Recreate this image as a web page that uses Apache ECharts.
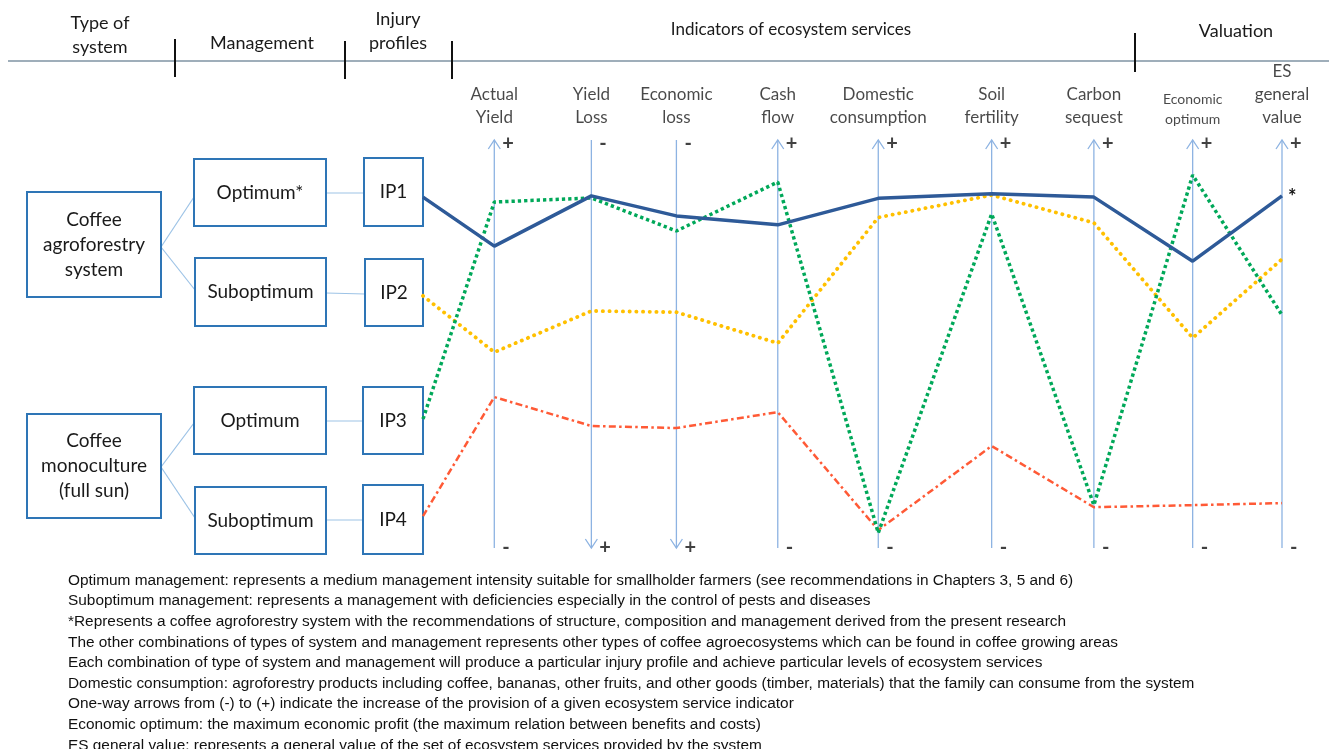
<!DOCTYPE html>
<html><head><meta charset="utf-8">
<script src="https://cdn.jsdelivr.net/npm/echarts@6/dist/echarts.min.js"></script>
<style>html,body{margin:0;padding:0;background:#fff;}#c{width:1329px;height:749px;}</style>
</head><body><div id="c"></div>
<script>
// ---------- DATA ----------
const indicators = ['Actual\nYield','Yield\nLoss','Economic\nloss','Cash\nflow','Domestic\nconsumption','Soil\nfertility','Carbon\nsequest','Economic\noptimum','ES\ngeneral\nvalue'];
const topSigns    = ['+','-','-','+','+','+','+','+','+'];
const bottomSigns = ['-','+','+','-','-','-','-','-','-'];
const profiles = ['IP1','IP2','IP3','IP4'];
// first value = starting level at the injury-profile box, then one value per indicator (0 = "-" end, 100 = "+" end of drawing)
const ip1 = [86.0, 74.0, 86.3, 81.4, 79.2, 85.7, 86.8, 86.0, 70.3, 86.3];
const ip2 = [61.8, 48.0, 58.1, 57.8, 50.2, 81.0, 86.5, 79.7, 51.5, 70.8];
const ip3 = [31.6, 84.8, 85.8, 77.7, 89.7,  3.7, 81.9, 10.5, 91.4, 57.1];
const ip4 = [ 7.8, 37.0, 29.9, 29.4, 33.3,  4.4, 25.0, 10.0, 10.5, 11.0];
const footnotes = [
  'Optimum management: represents a medium management intensity suitable for smallholder farmers (see recommendations in Chapters 3, 5 and 6)',
  'Suboptimum management: represents a management with deficiencies especially in the control of pests and diseases',
  '*Represents a coffee agroforestry system with the recommendations of structure, composition and management derived from the present research',
  'The other combinations of types of system and management represents other types of coffee agroecosystems which can be found in coffee growing areas',
  'Each combination of type of system and management will produce a particular injury profile and achieve particular levels of ecosystem services',
  'Domestic consumption: agroforestry products including coffee, bananas, other fruits, and other goods (timber, materials) that the family can consume from the system',
  'One-way arrows from (-) to (+) indicate the increase of the provision of a given ecosystem service indicator',
  'Economic optimum: the maximum economic profit (the maximum relation between benefits and costs)',
  'ES general value: represents a general value of the set of ecosystem services provided by the system'
];

// ---------- LAYOUT ----------
const AXIS_POS = [0, 8.3, 19.6, 29.5, 41.3, 53.0, 66.2, 78.1, 89.6, 100];
const FONT = 'Lato';
const BOX = '#2E75B6', CONN = '#9DC3E6', AXISC = '#8DB3E2';

const chart = echarts.init(document.getElementById('c'), null, {renderer:'canvas'});

function pts(arr){ return arr.map((v,i)=>[AXIS_POS[i], v]); }

const g = [];
// header line + ticks
g.push({type:'line', shape:{x1:8,y1:61,x2:1329,y2:61}, style:{stroke:'#7F93A3', lineWidth:1.5}});
[[175,39,77],[345,41,79],[452,41,79],[1135,33,72]].forEach(t=>g.push({type:'line', shape:{x1:t[0],y1:t[1],x2:t[0],y2:t[2]}, style:{stroke:'#111', lineWidth:2}}));
function txt(x,y,text,size,lh){
  g.push({type:'text', x:x, y:y, style:{text:text, font:size+'px '+FONT, fill:'#1a1a1a', align:'center', verticalAlign:'middle', lineHeight:lh}});
}
txt(100,35,'Type of\nsystem',18,24);
txt(262,43,'Management',18,24);
txt(398,31,'Injury\nprofiles',18,24);
txt(791,30,'Indicators of ecosystem services',17,24);
txt(1236,31,'Valuation',18,24);
// boxes
const boxes = [
  [27,192,134,105,'Coffee\nagroforestry\nsystem'],
  [27,414,134,104,'Coffee\nmonoculture\n(full sun)'],
  [194,159,132,67,'Optimum*'],
  [195,258,131,68,'Suboptimum'],
  [194,387,132,67,'Optimum'],
  [195,487,131,67,'Suboptimum'],
  [364,158,59,68,profiles[0]],
  [365,259,58,67,profiles[1]],
  [363,387,60,67,profiles[2]],
  [363,485,60,69,profiles[3]]
];
// connectors
[[161,247,194,197],[161,247,195,290],[161,467,194,423],[161,467,195,518],
 [326,193,364,193],[326,293,365,294],[326,421,363,421],[326,520,363,520]].forEach(c=>
  g.push({type:'line', shape:{x1:c[0],y1:c[1],x2:c[2],y2:c[3]}, style:{stroke:CONN, lineWidth:1.2}}));
boxes.forEach(b=>{
  g.push({type:'rect', shape:{x:b[0],y:b[1],width:b[2],height:b[3]}, style:{fill:'#fff', stroke:BOX, lineWidth:2}});
  txt(b[0]+b[2]/2, b[1]+b[3]/2, b[4], 19, 25);
});
// footnotes
footnotes.forEach((f,i)=>g.push({type:'text', x:68, y:580.5+20.6*i, style:{text:f, font:'15.4px "Liberation Sans"', fill:'#111', align:'left', verticalAlign:'middle'}}));

const lineBase = {type:'line', symbol:'none', silent:true, z:5, animation:false};

chart.setOption({
  animation:false,
  grid:{left:423, right:47, top:140, bottom:201},
  xAxis:{type:'value', min:0, max:100, show:false},
  yAxis:{type:'value', min:0, max:100, show:false},
  graphic:g,
  series:[
    {type:'custom', silent:true, z:1,
     data: indicators.map((n,i)=>[AXIS_POS[i+1], topSigns[i]==='+'?1:-1]),
     renderItem:function(params, api){
       const x = api.value(0), up = api.value(1) > 0;
       const pT = api.coord([x,100]), pB = api.coord([x,0]);
       const tip = up ? pT : pB, d = up ? 1 : -1;
       return {type:'group', children:[
         {type:'line', shape:{x1:pT[0],y1:pT[1],x2:pB[0],y2:pB[1]}, style:{stroke:AXISC, lineWidth:1.3}},
         {type:'polyline', shape:{points:[[tip[0]-6,tip[1]+d*9],[tip[0],tip[1]],[tip[0]+6,tip[1]+d*9]]}, style:{stroke:AXISC, lineWidth:1.3, fill:null}}
       ]};
     }},
    {type:'scatter', silent:true, symbolSize:0, z:6,
     data: indicators.map((n,i)=>({value:[AXIS_POS[i+1],100], name:n,
       label: n.indexOf('optimum')>=0 ? {fontSize:14, lineHeight:20} : {}})),
     label:{show:true, position:'top', distance:11, formatter:p=>p.name, fontFamily:FONT, fontSize:17, lineHeight:23, color:'#1a1a1a', align:'center'}},
    {type:'scatter', silent:true, symbolSize:0, z:6,
     data: indicators.map((n,i)=>({value:[AXIS_POS[i+1],100], name:topSigns[i]})),
     label:{show:true, position:'right', distance:8, offset:[0,4], formatter:p=>p.name, fontFamily:FONT, fontWeight:'bold', fontSize:20, color:'#111'}},
    {type:'scatter', silent:true, symbolSize:0, z:6,
     data: indicators.map((n,i)=>({value:[AXIS_POS[i+1],0], name:bottomSigns[i]})),
     label:{show:true, position:'right', distance:8, formatter:p=>p.name, fontFamily:FONT, fontWeight:'bold', fontSize:20, color:'#111'}},
    Object.assign({}, lineBase, {name:profiles[3], data:pts(ip4), lineStyle:{color:'#FF5A36', width:2.5, type:[7,3.3,2.5,3.3]}}),
    Object.assign({}, lineBase, {name:profiles[1], data:pts(ip2), lineStyle:{color:'#FFC000', width:3.8, type:[0.2,6.5], cap:'round'}}),
    Object.assign({}, lineBase, {name:profiles[2], data:pts(ip3), lineStyle:{color:'#00A859', width:3.5, type:[3.3,3]}}),
    Object.assign({}, lineBase, {name:profiles[0], data:pts(ip1), lineStyle:{color:'#2E5A98', width:3.5},
      endLabel:{show:true, formatter:'*', distance:6, fontFamily:FONT, fontSize:20, fontWeight:'bold', color:'#111', offset:[0,2]}})
  ]
});
</script></body></html>
